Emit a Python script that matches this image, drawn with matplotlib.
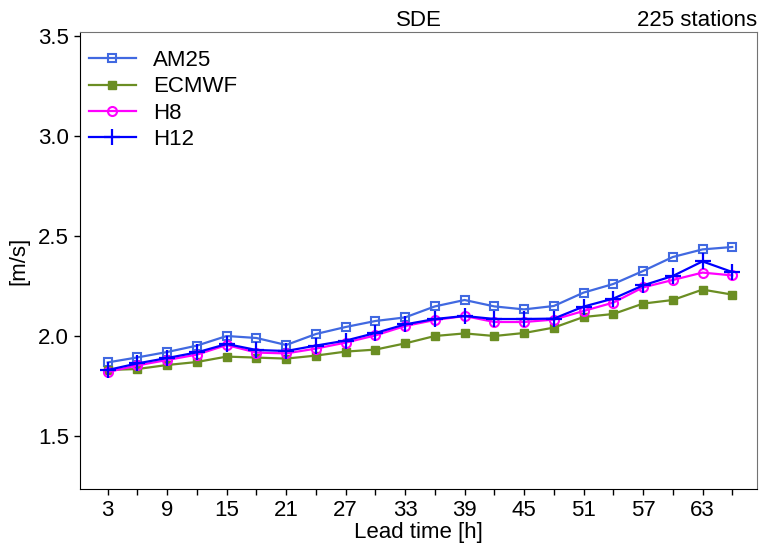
import numpy as np
import matplotlib
matplotlib.use('Agg')
import matplotlib.pyplot as plt

plt.rcParams['font.family'] = ['Liberation Sans', 'DejaVu Sans']
plt.rcParams['font.size'] = 16

# lead times [h]
lead = [3, 6, 9, 12, 15, 18, 21, 24, 27, 30, 33, 36, 39, 42, 45, 48, 51, 54, 57, 60, 63, 66]

am25 = [1.868, 1.893, 1.920, 1.952, 2.000, 1.990, 1.955, 2.010, 2.045, 2.075, 2.093,
        2.148, 2.180, 2.148, 2.133, 2.150, 2.217, 2.260, 2.325, 2.395, 2.433, 2.445]
ecmwf = [1.830, 1.835, 1.855, 1.870, 1.897, 1.892, 1.887, 1.902, 1.922, 1.932, 1.963,
         2.000, 2.013, 2.000, 2.015, 2.042, 2.095, 2.110, 2.162, 2.180, 2.232, 2.207]
h8 = [1.820, 1.853, 1.880, 1.907, 1.955, 1.917, 1.913, 1.937, 1.967, 2.003, 2.050,
      2.080, 2.100, 2.070, 2.070, 2.082, 2.125, 2.167, 2.243, 2.280, 2.317, 2.303]
h12 = [1.830, 1.863, 1.890, 1.918, 1.960, 1.930, 1.925, 1.952, 1.977, 2.015, 2.058,
       2.085, 2.100, 2.085, 2.085, 2.087, 2.147, 2.187, 2.253, 2.300, 2.373, 2.320]

fig = plt.figure(figsize=(7.59, 5.49), dpi=100)
ax = fig.add_axes([0.1054, 0.1093, 0.892, 0.8324])

ax.plot(lead, am25, color='royalblue', lw=1.6, marker='s', ms=5.5, mfc='none', mew=1.5, label='AM25')
ax.plot(lead, ecmwf, color='olivedrab', lw=1.6, marker='s', ms=5.5, label='ECMWF')
ax.plot(lead, h8, color='magenta', lw=1.6, marker='o', ms=6.5, mfc='none', mew=1.5, label='H8')
ax.plot(lead, h12, color='blue', lw=1.6, marker='+', ms=11, mew=1.6, label='H12')

ax.set_xlim(0.2, 68.5)
ax.set_ylim(1.235, 3.52)
ax.set_xticks(lead)
ax.set_xticklabels([str(t) if (t - 3) % 6 == 0 else '' for t in lead])
ax.set_yticks([1.5, 2.0, 2.5, 3.0, 3.5])
ax.tick_params(direction='out', length=4, width=1, pad=4)

for s in ['top', 'right']:
    ax.spines[s].set_color('0.45')
for s in ['left', 'bottom']:
    ax.spines[s].set_color('black')

ax.set_xlabel('Lead time [h]', labelpad=1)
ax.set_ylabel('[m/s]', labelpad=6)
ax.set_title('SDE', pad=4, fontsize=16)
ax.set_title('225 stations', loc='right', pad=4, fontsize=16)

ax.legend(loc='upper left', bbox_to_anchor=(0.0, 0.98), frameon=False, borderaxespad=0.0,
          handlelength=2.1, labelspacing=0.24, handletextpad=0.8, fontsize=16)

fig.savefig('out.png', dpi=100)
